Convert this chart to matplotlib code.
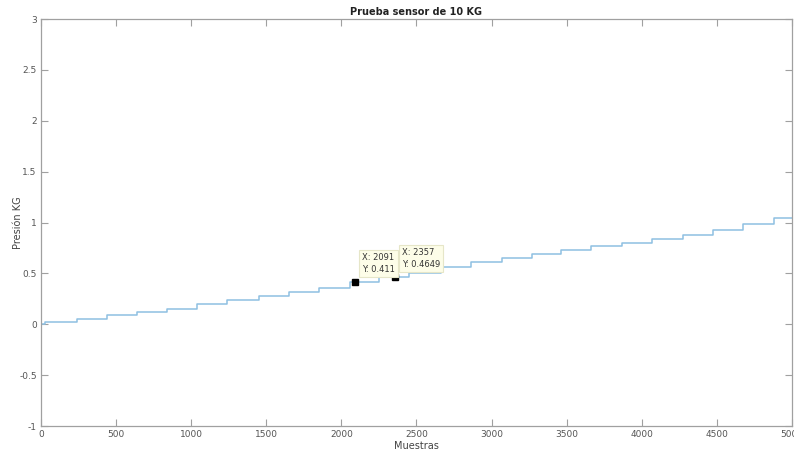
import numpy as np
import matplotlib.pyplot as plt

# sensor staircase readings: sample where each level starts, and the level
step_start = [0, 30, 238, 438, 638, 838, 1038, 1238, 1449, 1649, 1849, 2060,
              2250, 2450, 2660, 2860, 3070, 3270, 3460, 3665, 3865, 4071,
              4271, 4475, 4675, 4882, 5000]
step_level = [0.005, 0.023, 0.056, 0.095, 0.12, 0.154, 0.196, 0.235, 0.281,
              0.32, 0.36, 0.411, 0.4649, 0.505, 0.563, 0.608, 0.647, 0.693,
              0.725, 0.765, 0.80, 0.836, 0.882, 0.928, 0.987, 1.042, 1.042]

tips_x = [2091, 2357]
tips_y = [0.411, 0.4649]

fig = plt.figure(figsize=(7.94, 4.53), dpi=100)
ax = fig.add_axes([0.0516, 0.0596, 0.9459, 0.8984])

ax.plot(step_start, step_level, drawstyle='steps-post', color='#8ec0e2', lw=1.1)

ax.set_xlim(0, 5000)
ax.set_ylim(-1, 3)
ax.set_xticks(np.arange(0, 5001, 500))
ax.set_yticks(np.arange(-1, 3.01, 0.5))
ax.set_yticklabels(['-1', '-0.5', '0', '0.5', '1', '1.5', '2', '2.5', '3'])

for s in ax.spines.values():
    s.set_color('#a0a0a0')
    s.set_linewidth(0.9)
ax.tick_params(direction='in', top=True, right=True, length=5, width=0.8,
               color='#a0a0a0', labelsize=6.5, labelcolor='#555555', pad=3)

ax.set_title('Prueba sensor de 10 KG', fontsize=7, fontweight='bold',
             color='#222222', pad=3)
ax.set_xlabel('Muestras', fontsize=7, color='#444444', labelpad=1)
ax.set_ylabel('Presión KG', fontsize=7, color='#444444')
ax.yaxis.set_label_coords(-0.024, 0.5)

# data tips
for x, y in zip(tips_x, tips_y):
    ax.plot(x, y, marker='s', color='black', ms=4.5, zorder=5)
    ax.annotate('X: %d\nY: %s' % (x, ('%.4f' % y).rstrip('0')), (x, y),
                xytext=(5, 6), textcoords='offset points', fontsize=6,
                color='#333333', va='bottom', ha='left', linespacing=1.4,
                bbox=dict(boxstyle='square,pad=0.35', fc='#fdfde8',
                          ec='#e6e6c8', lw=0.8), zorder=6)

fig.savefig('out.png', dpi=100)
